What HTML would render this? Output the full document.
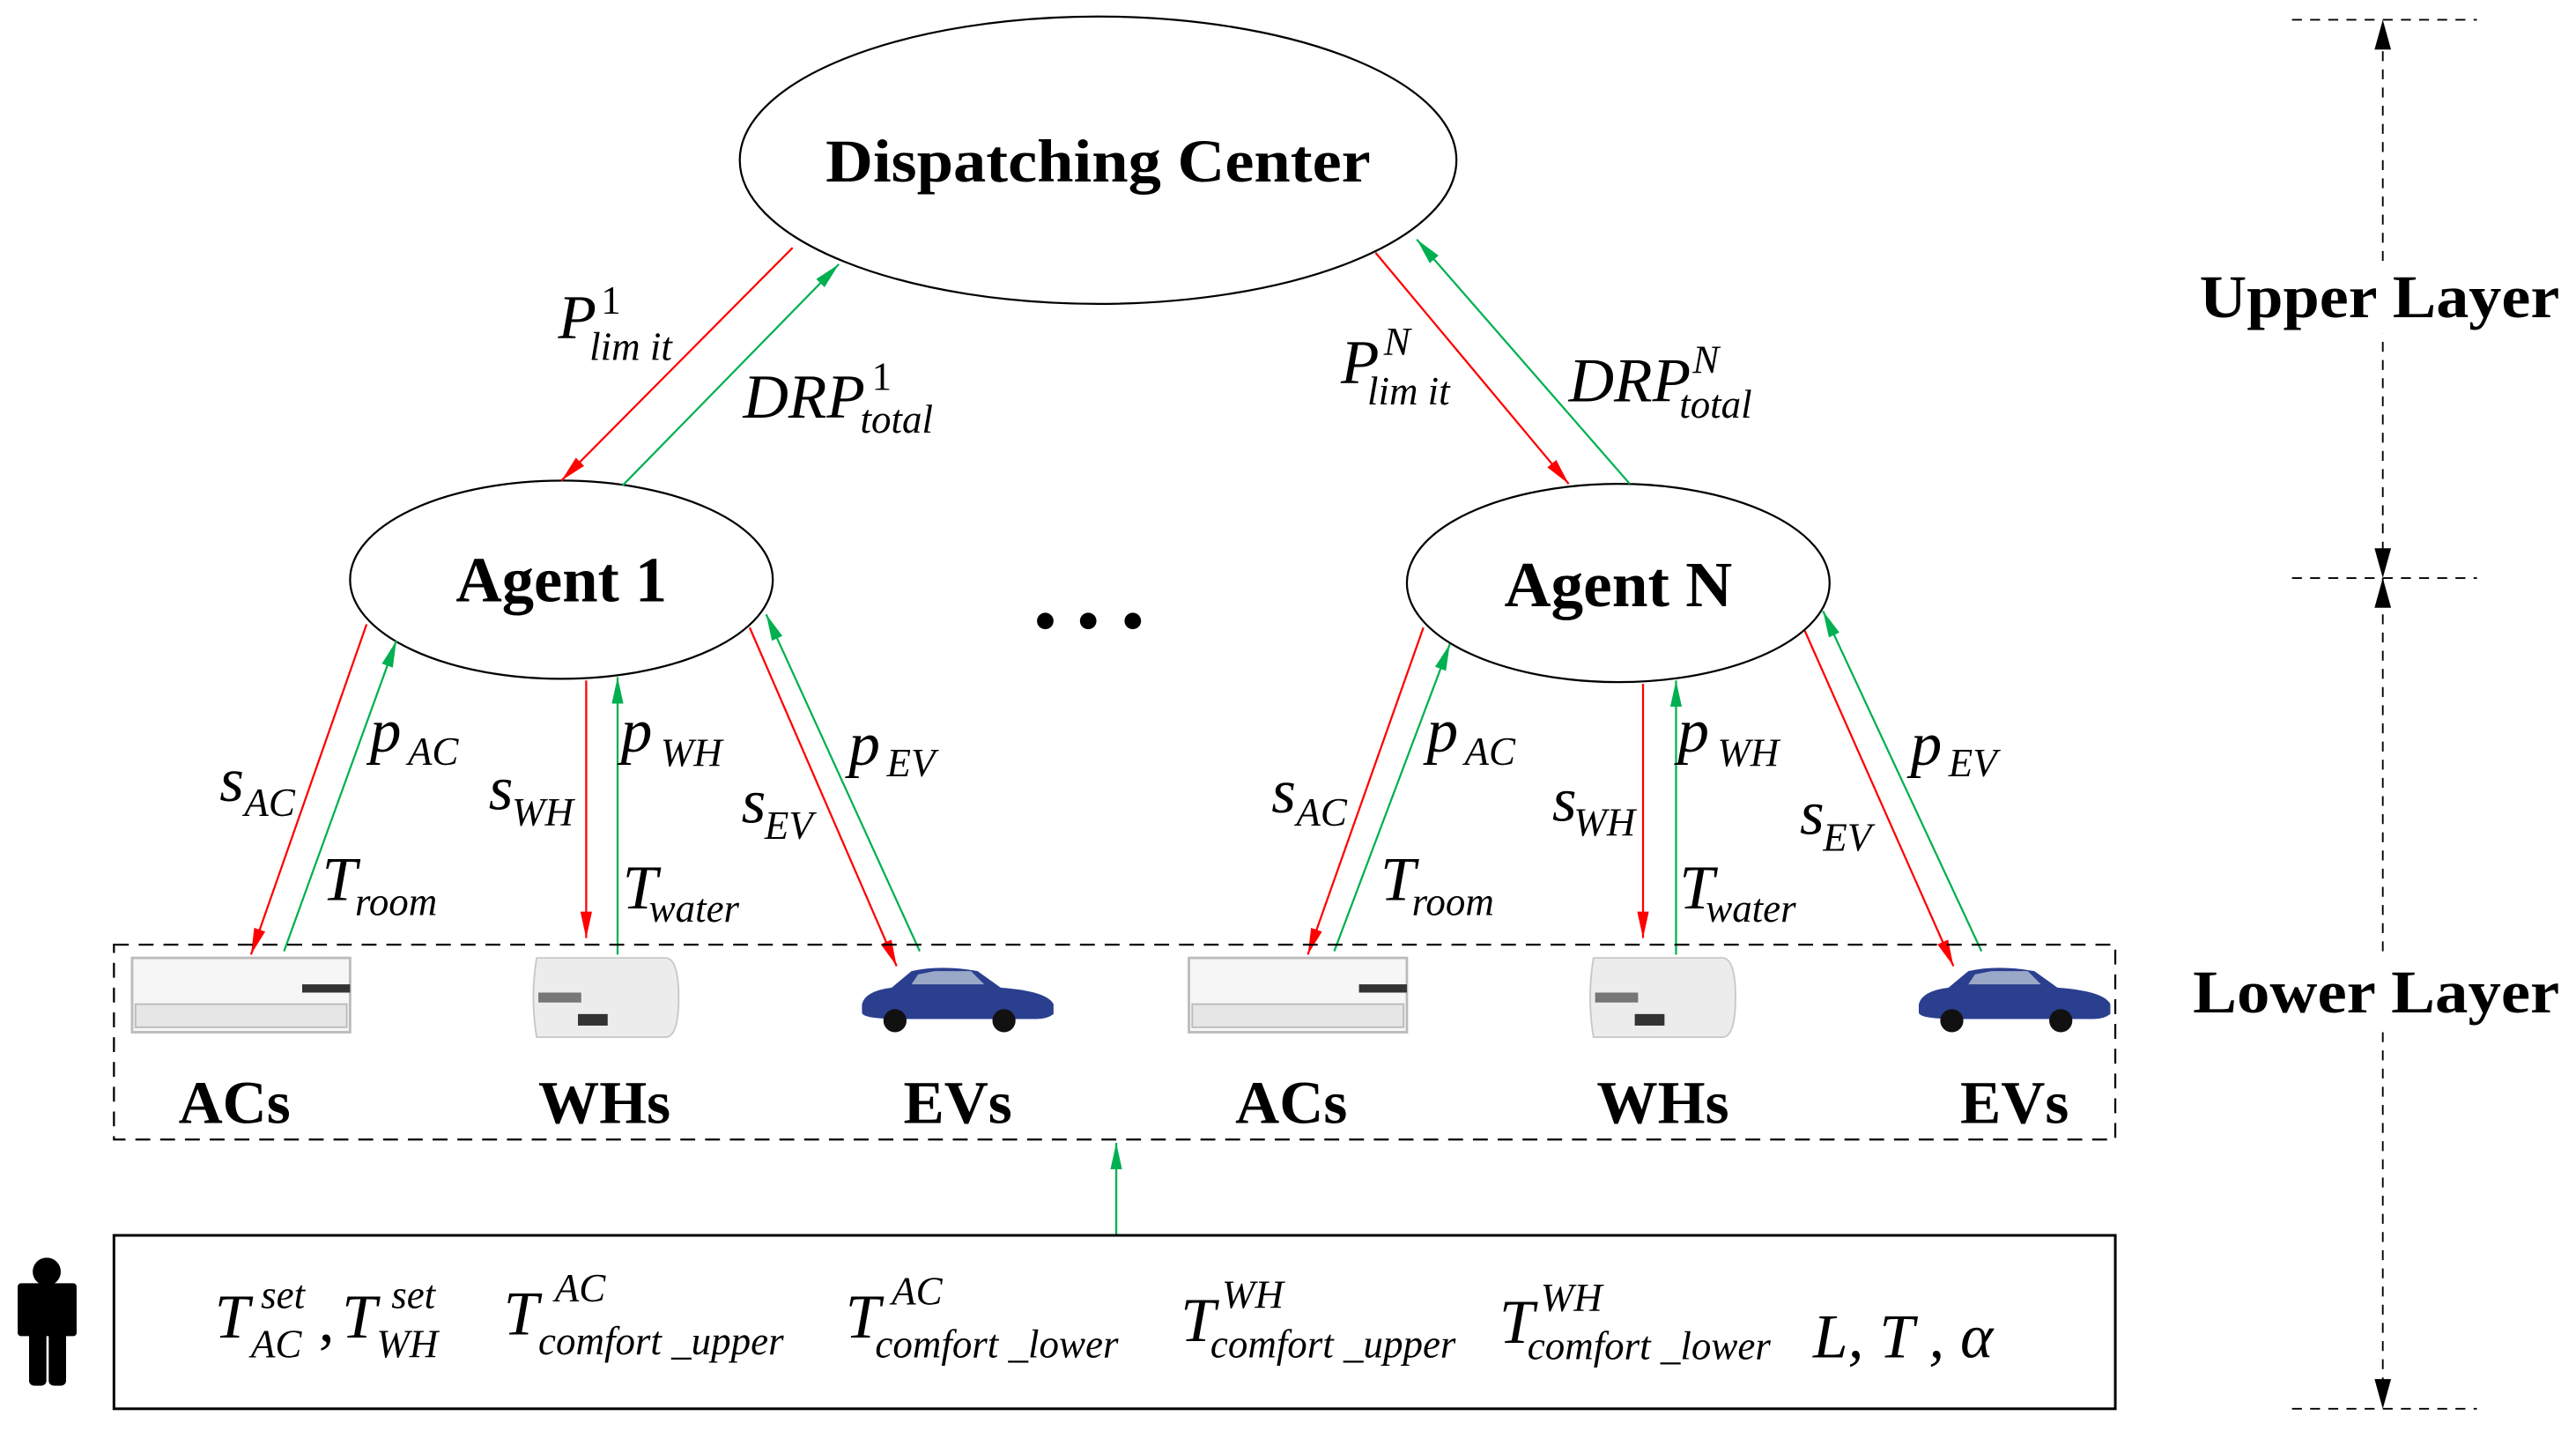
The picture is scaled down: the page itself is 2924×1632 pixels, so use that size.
<!DOCTYPE html>
<html><head><meta charset="utf-8"><style>
html,body{margin:0;padding:0;background:#fff;}
svg{display:block;}
.b{font-family:"Liberation Serif",serif;font-weight:bold;}
.i{font-family:"Liberation Serif",serif;font-style:italic;}
</style></head><body>
<svg width="2924" height="1632" viewBox="0 0 1560 870.7" xmlns="http://www.w3.org/2000/svg">
<defs>
<marker id="r" viewBox="0 0 10 10" refX="10" refY="5" markerWidth="16" markerHeight="16" orient="auto" markerUnits="userSpaceOnUse"><path d="M0,2.8 L10,5 L0,7.2z" fill="#ff0000"/></marker>
<marker id="g" viewBox="0 0 10 10" refX="10" refY="5" markerWidth="16" markerHeight="16" orient="auto" markerUnits="userSpaceOnUse"><path d="M0,2.8 L10,5 L0,7.2z" fill="#00b050"/></marker>
</defs>
<g fill="#fff" stroke="#000" stroke-width="1.2">
<ellipse cx="665" cy="97" rx="217" ry="87"/>
<ellipse cx="340" cy="351" rx="128" ry="60"/>
<ellipse cx="980" cy="353" rx="128" ry="60"/>
</g>
<text class="b" x="665" y="110" font-size="37" text-anchor="middle" textLength="330" lengthAdjust="spacingAndGlyphs">Dispatching Center</text>
<text class="b" x="340" y="364" font-size="39" text-anchor="middle" textLength="128" lengthAdjust="spacingAndGlyphs">Agent 1</text>
<text class="b" x="980" y="367" font-size="39" text-anchor="middle" textLength="138" lengthAdjust="spacingAndGlyphs">Agent N</text>
<circle cx="633" cy="376" r="5"/><circle cx="659" cy="376" r="5"/><circle cx="686" cy="376" r="5"/>
<g stroke-width="1.2" fill="none">
<line x1="480" y1="150" x2="340" y2="291" stroke="#ff0000" marker-end="url(#r)"/>
<line x1="377" y1="294" x2="508" y2="160" stroke="#00b050" marker-end="url(#g)"/>
<line x1="833" y1="153" x2="950" y2="293" stroke="#ff0000" marker-end="url(#r)"/>
<line x1="987" y1="293" x2="858" y2="145" stroke="#00b050" marker-end="url(#g)"/>
<line x1="222" y1="378" x2="152" y2="578" stroke="#ff0000" marker-end="url(#r)"/>
<line x1="172" y1="576" x2="240" y2="388" stroke="#00b050" marker-end="url(#g)"/>
<line x1="355" y1="412" x2="355" y2="568" stroke="#ff0000" marker-end="url(#r)"/>
<line x1="374" y1="578" x2="374" y2="410" stroke="#00b050" marker-end="url(#g)"/>
<line x1="454" y1="380" x2="543" y2="585" stroke="#ff0000" marker-end="url(#r)"/>
<line x1="557" y1="576" x2="464" y2="372" stroke="#00b050" marker-end="url(#g)"/>
<line x1="862" y1="380" x2="792" y2="578" stroke="#ff0000" marker-end="url(#r)"/>
<line x1="808" y1="576" x2="878" y2="390" stroke="#00b050" marker-end="url(#g)"/>
<line x1="995" y1="414" x2="995" y2="568" stroke="#ff0000" marker-end="url(#r)"/>
<line x1="1015" y1="578" x2="1015" y2="412" stroke="#00b050" marker-end="url(#g)"/>
<line x1="1093" y1="382" x2="1183" y2="585" stroke="#ff0000" marker-end="url(#r)"/>
<line x1="1200" y1="576" x2="1104" y2="370" stroke="#00b050" marker-end="url(#g)"/>
<line x1="676" y1="748" x2="676" y2="692" stroke="#00b050" marker-end="url(#g)"/>
</g>
<rect x="69" y="572" width="1212" height="118" fill="none" stroke="#000" stroke-width="1.2" stroke-dasharray="9,6"/>
<rect x="69" y="748" width="1212" height="105" fill="none" stroke="#000" stroke-width="1.6"/>
<g stroke="#000" stroke-width="1" stroke-dasharray="6,5" fill="none">
<line x1="1443" y1="20" x2="1443" y2="845"/>
<line x1="1388" y1="12" x2="1500" y2="12"/>
<line x1="1388" y1="350" x2="1500" y2="350"/>
<line x1="1388" y1="853" x2="1500" y2="853"/>
</g>
<g fill="#000">
<path d="M1443,12 l-5,18 h10z"/>
<path d="M1443,350 l-5,-18 h10z"/>
<path d="M1443,350 l-5,18 h10z"/>
<path d="M1443,853 l-5,-18 h10z"/>
</g>
<rect x="1330" y="160" width="222" height="42" fill="#fff"/>
<rect x="1326" y="581" width="226" height="42" fill="#fff"/>
<text class="b" x="1441" y="192" font-size="37" text-anchor="middle" textLength="218" lengthAdjust="spacingAndGlyphs">Upper Layer</text>
<text class="b" x="1439" y="613" font-size="37" text-anchor="middle" textLength="222" lengthAdjust="spacingAndGlyphs">Lower Layer</text>
<g class="b" font-size="37" text-anchor="middle">
<text x="142" y="680">ACs</text><text x="366" y="680">WHs</text><text x="580" y="680">EVs</text>
<text x="782" y="680">ACs</text><text x="1007" y="680">WHs</text><text x="1220" y="680">EVs</text>
</g>
<g id="dev">
<rect x="80" y="580" width="132" height="45" fill="#f6f6f6" stroke="#bbb" stroke-width="1.5"/>
<rect x="82" y="608" width="128" height="14" fill="#e6e6e6" stroke="#bbb"/>
<rect x="183" y="596" width="29" height="5" fill="#333"/>
<path d="M325,580 h78 q8,0 8,24 q0,24 -8,24 h-78 q-4,-24 0,-48z" fill="#ececec" stroke="#c8c8c8"/>
<rect x="326" y="601" width="26" height="6" fill="#777"/>
<rect x="350" y="614" width="18" height="7" fill="#333"/>
<path d="M522,608 q2,-8 18,-10 l12,-10 q18,-4 40,0 l14,10 q28,2 32,10 l0,6 q-4,3 -10,3 l-82,0 q-24,0 -24,-4z" fill="#2b3f8f"/>
<circle cx="542" cy="618" r="7" fill="#111"/><circle cx="608" cy="618" r="7" fill="#111"/>
<path d="M556,590 l10,-2 h22 l8,8 h-44z" fill="#9aa8c8"/>
</g>
<use href="#dev" x="640" y="0"/>
<g fill="#000">
<circle cx="28.3" cy="770" r="8.5"/>
<rect x="10.7" y="777" width="35.7" height="32" rx="2"/>
<rect x="17.6" y="805" width="10.5" height="34" rx="3"/>
<rect x="29.5" y="805" width="10.5" height="34" rx="3"/>
</g>
<g class="i" font-size="38">
<text x="338" y="205">P</text><text x="812" y="232">P</text>
<text x="450" y="253">DRP</text><text x="950" y="243">DRP</text>
<text x="133" y="485">s</text><text x="224" y="455">p</text><text x="195" y="545">T</text>
<text x="296" y="490">s</text><text x="376" y="455">p</text><text x="377" y="550">T</text>
<text x="449" y="498">s</text><text x="514" y="463">p</text>
<text x="770" y="492">s</text><text x="864" y="455">p</text><text x="836" y="545">T</text>
<text x="940" y="497">s</text><text x="1016" y="455">p</text><text x="1017" y="550">T</text>
<text x="1090" y="505">s</text><text x="1157" y="463">p</text>
<text x="130" y="810">T</text><text x="207" y="810">T</text><text x="305" y="808">T</text>
<text x="512" y="810">T</text><text x="715" y="812">T</text><text x="908" y="813">T</text>
<text x="1098" y="822">L, T , α</text>
<text x="193" y="812" font-style="normal">,</text>
</g>
<g class="i" font-size="24">
<text x="364" y="190" font-style="normal">1</text><text x="357" y="218">lim it</text>
<text x="528" y="236" font-style="normal">1</text><text x="521" y="262">total</text>
<text x="838" y="215">N</text><text x="828" y="245">lim it</text>
<text x="1025" y="226">N</text><text x="1017" y="253">total</text>
<text x="148" y="494">AC</text><text x="247" y="463">AC</text><text x="215" y="554">room</text>
<text x="310" y="500">WH</text><text x="400" y="464">WH</text><text x="393" y="558">water</text>
<text x="463" y="508">EV</text><text x="537" y="470">EV</text>
<text x="785" y="500">AC</text><text x="887" y="463">AC</text><text x="855" y="554">room</text>
<text x="953" y="506">WH</text><text x="1040" y="464">WH</text><text x="1033" y="558">water</text>
<text x="1104" y="515">EV</text><text x="1180" y="470">EV</text>
<text x="158" y="792">set</text><text x="152" y="822">AC</text>
<text x="237" y="792">set</text><text x="228" y="822">WH</text>
<text x="336" y="788">AC</text><text x="326" y="820">comfort _upper</text>
<text x="540" y="790">AC</text><text x="530" y="822">comfort _lower</text>
<text x="740" y="792">WH</text><text x="733" y="822">comfort _upper</text>
<text x="933" y="794">WH</text><text x="925" y="823">comfort _lower</text>
</g>
</svg>
</body></html>
